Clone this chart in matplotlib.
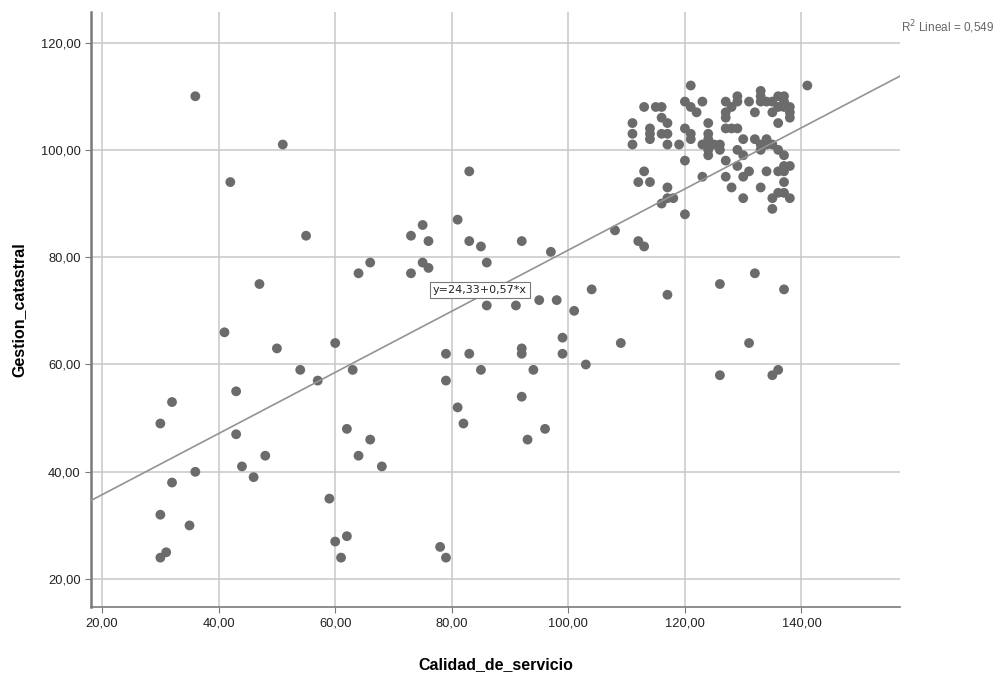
import numpy as np
import matplotlib.pyplot as plt

plt.rcParams['font.family'] = ['Liberation Sans', 'DejaVu Sans']

# Calidad_de_servicio (x) vs Gestion_catastral (y)
calidad = [
    36, 51, 42, 55, 47, 41, 50, 60, 54, 57, 43, 32, 30, 43, 48, 36, 44, 46, 32, 30,
    35, 31, 30, 59, 60, 62, 61, 62, 63,
    83, 81, 75, 73, 76, 83, 85, 92, 97, 66, 64, 75, 76, 73, 86, 108, 104, 98, 95, 91,
    86, 101, 99, 99, 92, 92, 79, 83, 103, 109, 85, 94, 79, 92, 81, 82, 66, 93, 96,
    64, 68, 78, 79,
    112, 113, 117, 126, 132, 137, 131, 126, 135, 136,
    121, 113, 115, 116, 120, 121, 122, 123, 116, 117, 111, 111, 111, 114, 114, 114,
    116, 117, 117, 119, 120, 121, 121, 124, 124, 124, 124, 124, 124, 123, 125, 126,
    127, 129, 127, 127, 128, 129, 127, 128, 129, 131, 132, 130, 132, 129, 130, 127,
    129, 131, 130, 127, 128, 130, 133, 120, 123, 120, 113, 112, 114, 117, 118, 116,
    117, 133, 133, 134, 135, 126, 134, 133, 134, 134, 135, 135, 141, 136, 137, 135,
    137, 138, 138, 136, 136, 136, 137, 138, 137, 136, 135, 137, 136, 137, 138, 133,
    137, 138, 133, 137,
]
gestion = [
    110, 101, 94, 84, 75, 66, 63, 64, 59, 57, 55, 53, 49, 47, 43, 40, 41, 39, 38, 32,
    30, 25, 24, 35, 27, 28, 24, 48, 59,
    96, 87, 86, 84, 83, 83, 82, 83, 81, 79, 77, 79, 78, 77, 79, 85, 74, 72, 72, 71,
    71, 70, 65, 62, 63, 62, 62, 62, 60, 64, 59, 59, 57, 54, 52, 49, 46, 46, 48,
    43, 41, 26, 24,
    83, 82, 73, 75, 77, 74, 64, 58, 58, 59,
    112, 108, 108, 108, 109, 108, 107, 109, 106, 105, 105, 103, 101, 104, 103, 102,
    103, 103, 101, 101, 104, 103, 102, 105, 103, 102, 101, 100, 99, 101, 101, 100,
    109, 110, 107, 106, 108, 109, 104, 104, 104, 109, 107, 102, 102, 100, 99, 98,
    97, 96, 95, 95, 93, 91, 93, 98, 95, 88, 96, 94, 94, 93, 91, 90,
    91, 111, 110, 109, 107, 101, 102, 101, 101, 96, 91, 89, 112, 110, 110, 109,
    109, 108, 107, 105, 108, 100, 99, 97, 96, 96, 101, 94, 92, 92, 91, 109,
    108, 106, 100, 97,
]

a, b = 24.33, 0.57
r2_text = "0,549"

fig = plt.figure(figsize=(10.02, 6.77), dpi=100)
ax = fig.add_axes([91 / 1002, 1 - 607 / 677, (900 - 91) / 1002, (607 - 12) / 677])

ax.set_xlim(18.1, 156.9)
ax.set_ylim(14.8, 125.7)

ax.set_xticks(range(20, 141, 20))
ax.set_yticks(range(20, 121, 20))
ax.set_xticklabels([f"{v},00" for v in range(20, 141, 20)])
ax.set_yticklabels([f"{v},00" for v in range(20, 121, 20)])
ax.grid(True, color="#c8c8c8", linewidth=1.1)
ax.set_axisbelow(True)

for s in ["top", "right"]:
    ax.spines[s].set_visible(False)
ax.spines["left"].set_color("#7a7a7a")
ax.spines["left"].set_linewidth(1.8)
ax.spines["bottom"].set_color("#7a7a7a")
ax.spines["bottom"].set_linewidth(1.2)
ax.tick_params(colors="#7a7a7a", labelcolor="#222222", labelsize=9.3, length=4)

ax.scatter(calidad, gestion, s=50, color="#6b6b6b", edgecolors="none", zorder=3)

xs = np.array(ax.get_xlim())
ax.plot(xs, a + b * xs, color="#939393", linewidth=1.2, zorder=4)

ax.text(84.8, 73.9, "y=24,33+0,57*x", ha="center", va="center", fontsize=8,
        family=["DejaVu Sans Condensed", "DejaVu Sans"],
        color="#222222", zorder=5,
        bbox=dict(boxstyle="square,pad=0.25", facecolor="white", edgecolor="#7a7a7a", linewidth=0.8))

ax.set_xlabel("Calidad_de_servicio", fontsize=11.5, fontweight="bold", labelpad=20)
ax.set_ylabel("Gestion_catastral", fontsize=11.5, fontweight="bold", labelpad=10)

fig.text(901 / 1002, 1 - 27 / 677, "R$^2$ Lineal = " + r2_text, fontsize=8.5,
         color="#666666", ha="left", va="center")

fig.savefig("out.png", dpi=100)
